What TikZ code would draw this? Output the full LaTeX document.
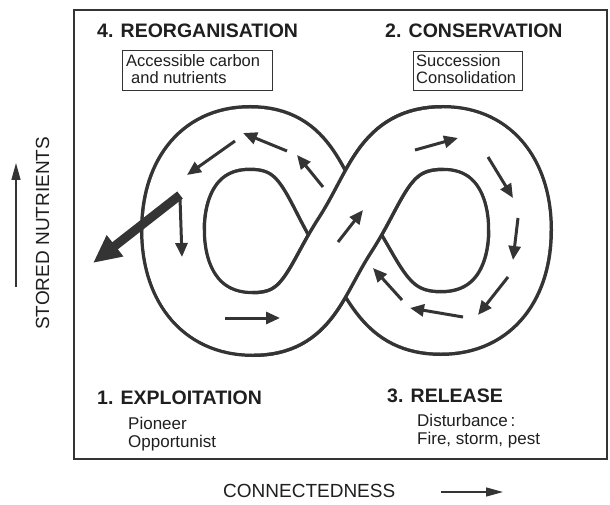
\documentclass[tikz,border=0pt]{standalone}
\usepackage{fontspec}
\setmainfont{Liberation Sans}
\usetikzlibrary{arrows.meta}
\definecolor{ink}{RGB}{52,52,52}
\begin{document}
\begin{tikzpicture}[x=1pt,y=1pt,
  bandout/.style={draw=ink, line width=66pt, line cap=butt},
  bandin/.style={draw=white, line width=59pt, line cap=butt},
  flow/.style={draw=ink, line width=3pt, -{Triangle[length=14pt,width=12pt]}},
  bigflow/.style={draw=ink, line width=9pt, -{Triangle[length=28pt,width=25pt]}},
  axisarrow/.style={draw=ink, line width=1.4pt, -{Triangle[length=17pt,width=9pt]}},
  frame/.style={draw=ink, line width=1.6pt},
  boxline/.style={draw=ink, line width=0.9pt},
  title/.style={font=\fontsize{19.5}{22}\selectfont\bfseries, text=black!88, anchor=base west, inner sep=0pt},
  sub/.style={font=\fontsize{17}{20}\selectfont, text=black!88, anchor=base west, inner sep=0pt},
  boxtext/.style={font=\fontsize{16.5}{19}\selectfont, text=black!88, anchor=base west, inner sep=0pt},
  axislabel/.style={font=\fontsize{19}{22}\selectfont, text=black!88, anchor=base west, inner sep=0pt}
]
\useasboundingbox (0,0) rectangle (610,504);
\fill[white] (0,0) rectangle (610,504);

% frame
\draw[frame] (74,45) rectangle (607,494);

% figure-eight centreline points
\coordinate (C) at (345,269);
\coordinate (TR) at (443,366);
\coordinate (R) at (520,274);
\coordinate (BR) at (441,181);
\coordinate (TL) at (250,366);
\coordinate (L) at (173,274);
\coordinate (BL) at (253,180);

\def\eightpath{(C) to[out=57,in=180,looseness=1.1] (TR) to[out=0,in=90,looseness=1.1] (R) to[out=-90,in=0,looseness=1.1] (BR) to[out=180,in=-57,looseness=1.1] (C) to[out=123,in=0,looseness=1.1] (TL) to[out=180,in=90,looseness=1.1] (L) to[out=-90,in=180,looseness=1.1] (BL) to[out=0,in=-123,looseness=1.1] (C)}
\def\overpath{(BL) to[out=0,in=-123,looseness=1.1] (C) to[out=57,in=180,looseness=1.1] (TR)}
\def\overpathlong{(L) to[out=-90,in=180,looseness=1.1] (BL) to[out=0,in=-123,looseness=1.1] (C) to[out=57,in=180,looseness=1.1] (TR) to[out=0,in=90,looseness=1.1] (R)}

\draw[bandout] \eightpath;
\draw[bandin] \eightpath;
\draw[bandout] \overpath;
\draw[bandin] \overpathlong;

% flow arrows
\coordinate (a1s) at (225,186); \coordinate (a1e) at (280,186);
\coordinate (a2s) at (338,262); \coordinate (a2e) at (363,294);
\coordinate (a3s) at (415,354); \coordinate (a3e) at (458,366);
\coordinate (a4s) at (488,347); \coordinate (a4e) at (513,306);
\coordinate (a5s) at (518,286); \coordinate (a5e) at (513,244);
\coordinate (a6s) at (508,227); \coordinate (a6e) at (478,189);
\coordinate (a7s) at (463,187); \coordinate (a7e) at (410,196);
\coordinate (a8s) at (402,204); \coordinate (a8e) at (373,236);
\coordinate (a9s) at (323,317); \coordinate (a9e) at (297,349);
\coordinate (a11s) at (287,353); \coordinate (a11e) at (243,371);
\coordinate (a12s) at (235,363); \coordinate (a12e) at (187,329);
\coordinate (a13s) at (180,306); \coordinate (a13e) at (182,247);
\coordinate (bigs) at (180,309); \coordinate (bige) at (93,241);

\foreach \a in {a1,a2,a3,a4,a5,a6,a7,a8,a9,a11,a12,a13}
  \draw[flow] (\a s) -- (\a e);
\draw[bigflow] (bigs) -- (bige);

% titles
\node[title] (reorg) at (97,466) {4. REORGANISATION};
\node[title] (cons) at (385,466) {2. CONSERVATION};
\node[title] (expl) at (97,100) {1. EXPLOITATION};
\node[title] (rel) at (387,102) {3. RELEASE};

% boxes
\draw[boxline] (122,454) rectangle (272,414);
\node[boxtext] (acc1) at (126,437) {Accessible carbon};
\node[boxtext] (acc2) at (131,420) {and nutrients};
\draw[boxline] (413,453) rectangle (522,414);
\node[boxtext] (suc1) at (416,437) {Succession};
\node[boxtext] (suc2) at (416,420) {Consolidation};

% sub texts
\node[sub] (pio) at (128,75) {Pioneer};
\node[sub] (opp) at (128,57) {Opportunist};
\node[sub] (dis) at (417,78) {Disturbance\,:};
\node[sub] (fire) at (417,60) {Fire, storm, pest};

% axes
\node[axislabel] (conn) at (223,7) {CONNECTEDNESS};
\coordinate (cxs) at (441,12); \coordinate (cxe) at (503,12);
\draw[axisarrow] (cxs) -- (cxe);
\node[axislabel, rotate=90] (stor) at (49,174) {STORED NUTRIENTS};
\coordinate (sys) at (16,217); \coordinate (sye) at (16,341);
\draw[axisarrow] (sys) -- (sye);
\end{tikzpicture}
\end{document}
